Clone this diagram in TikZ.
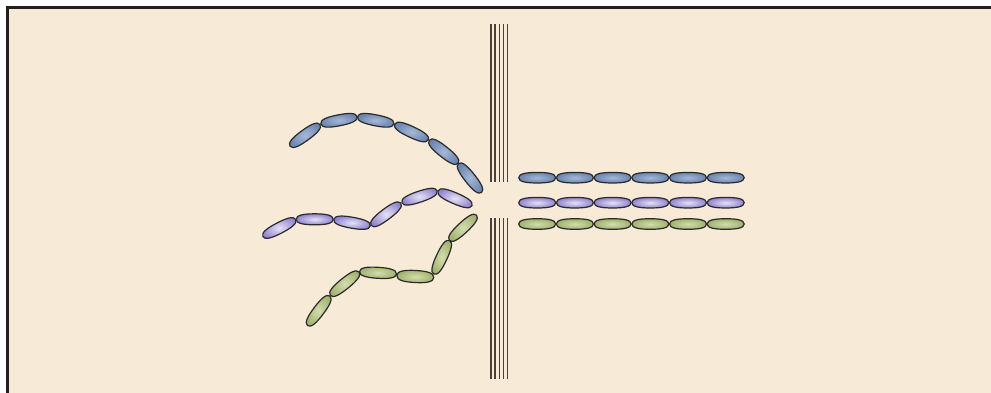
\documentclass[tikz,border=0pt]{standalone}

\definecolor{paper}{HTML}{F7EAD6}
\definecolor{frameline}{HTML}{232120}
\definecolor{slitline}{HTML}{4A4039}
\definecolor{cellline}{HTML}{2B2A2C}
\definecolor{blueinner}{HTML}{A5B8D5}
\definecolor{blueouter}{HTML}{6A85B0}
\definecolor{purpinner}{HTML}{E6E2F6}
\definecolor{purpouter}{HTML}{9184CE}
\definecolor{greeninner}{HTML}{D3DDAE}
\definecolor{greenouter}{HTML}{A0B26E}

\tikzset{
  % one bacterium: a blunt ellipse, 37 x 11
  pics/cell/.style={code={
    \path[pic actions] (-18.5,0) .. controls (-18.5,-4.2) and (-11,-5.5) .. (0,-5.5)
      .. controls (11,-5.5) and (18.5,-4.2) .. (18.5,0)
      .. controls (18.5,4.2) and (11,5.5) .. (0,5.5)
      .. controls (-11,5.5) and (-18.5,4.2) .. (-18.5,0) -- cycle;
  }},
  cellline/.style={draw=cellline, line width=1.2pt},
  bluecell/.style={cellline, inner color=blueinner, outer color=blueouter},
  purpcell/.style={cellline, inner color=purpinner, outer color=purpouter},
  greencell/.style={cellline, inner color=greeninner, outer color=greenouter},
  slit/.style={draw=slitline, line width=1.4pt}
}

\begin{document}
\begin{tikzpicture}[x=1pt,y=-1pt]
\useasboundingbox (0,0) rectangle (991,392);
\clip (0,0) rectangle (991,392);
\fill[white] (0,0) rectangle (991,392);
\draw[frameline, fill=paper, line width=2.6pt] (7.5,7.5) rectangle (1010,410);

% the two slit walls
\foreach \x in {490.8,495,499.2,503.4,507.6} {
  \draw[slit] (\x,24) -- (\x,182);
  \draw[slit] (\x,218) -- (\x,379);
}

% blue chain
\pic[bluecell, rotate=36] (b1) at (305,135.3) {cell};
\pic[bluecell, rotate=11] (b2) at (339,120.3) {cell};
\pic[bluecell, rotate=-11] (b3) at (375.7,120.3) {cell};
\pic[bluecell, rotate=-25] (b4) at (411.5,132) {cell};
\pic[bluecell, rotate=-38.5] (b5) at (443.7,151.7) {cell};
\pic[bluecell, rotate=-51.5] (b6) at (470,178) {cell};

% purple chain
\pic[purpcell, rotate=27.5] (p1) at (279.3,228) {cell};
\pic[purpcell, rotate=0] (p2) at (314.7,219.3) {cell};
\pic[purpcell, rotate=-10] (p3) at (352,222.7) {cell};
\pic[purpcell, rotate=37] (p4) at (386,214.3) {cell};
\pic[purpcell, rotate=18.6] (p5) at (419.5,196.7) {cell};
\pic[purpcell, rotate=-23.4] (p6) at (455,198.3) {cell};

% green chain
\pic[greencell, rotate=53] (g1) at (318.7,310.8) {cell};
\pic[greencell, rotate=39] (g2) at (344.7,283.7) {cell};
\pic[greencell, rotate=-3.5] (g3) at (378,272.8) {cell};
\pic[greencell, rotate=-3, yscale=1.1] (g4) at (415.3,276.5) {cell};
\pic[greencell, rotate=65] (g5) at (441.7,257.3) {cell};
\pic[greencell, rotate=43] (g6) at (463,227.8) {cell};

% rows behind the slit
\foreach \i in {1,...,6} {
  \pic[bluecell, yscale=0.96] (rb\i) at (499.5+37.7*\i,177.7) {cell};
  \pic[purpcell, yscale=0.96] (rp\i) at (499.5+37.7*\i,202.7) {cell};
  \pic[greencell, yscale=0.96] (rg\i) at (499.5+37.7*\i,224) {cell};
}
\end{tikzpicture}
\end{document}
